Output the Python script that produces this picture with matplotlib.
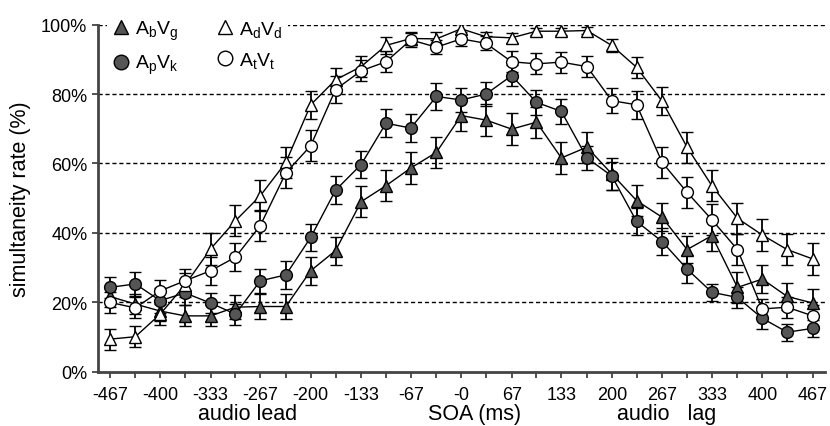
import matplotlib
matplotlib.use("Agg")
import matplotlib.pyplot as plt
from matplotlib.lines import Line2D

plt.rcParams['font.family'] = ['Liberation Sans', 'DejaVu Sans']
plt.rcParams['mathtext.fontset'] = 'custom'
plt.rcParams['mathtext.rm'] = 'Liberation Sans'
plt.rcParams['mathtext.it'] = 'Liberation Sans'

# SOA (ms), negative = audio lead
soa = [-467, -433, -400, -367, -333, -300, -267, -233, -200, -167, -133, -100, -67, -33,
       0, 33, 67, 100, 133, 167, 200, 233, 267, 300, 333, 367, 400, 433, 467]
tick_labels = ['-467', '', '-400', '', '-333', '', '-267', '', '-200', '', '-133', '', '-67', '',
               '-0', '', '67', '', '133', '', '200', '', '267', '', '333', '', '400', '', '467']

# simultaneity rate (%)
abvg = [21.7, 19.5, 17.5, 16.1, 16.1, 18.6, 18.8, 18.8, 29.1, 34.9, 49.0, 53.6, 58.7, 63.2,
        73.8, 72.5, 69.9, 71.9, 61.6, 64.7, 57.0, 49.3, 44.5, 35.2, 39.2, 24.3, 26.7, 21.7, 19.8]
abvg_err = [3, 3, 3, 3, 3, 3.5, 3.5, 3.5, 4, 4, 4.5, 4.5, 4.5, 4.5,
            4.5, 4.5, 4.5, 4.5, 4.5, 4.5, 4.5, 4.5, 4, 4, 4.5, 4.5, 4, 4, 4]

adod = [9.4, 10.1, 16.6, 25.0, 35.4, 43.5, 50.7, 60.3, 76.9, 84.1, 87.9, 94.0, 96.0, 95.9,
        98.8, 96.5, 96.2, 98.1, 98.1, 98.3, 94.0, 87.7, 77.9, 64.7, 53.6, 44.2, 39.4, 35.2, 32.5]
adod_err = [3, 3, 3, 3.5, 4.5, 4.5, 4.5, 4.5, 4, 3.5, 3, 2.5, 2, 2,
            1.5, 1.5, 1.5, 1, 1, 1, 2, 3, 4, 4.5, 4.5, 4.5, 4.5, 4.5, 4.5]

apvk = [24.3, 25.3, 20.5, 22.7, 19.8, 16.6, 26.2, 27.9, 38.7, 52.3, 59.7, 71.6, 70.2, 79.3,
        78.3, 80.0, 85.3, 77.6, 75.0, 61.6, 56.4, 43.3, 37.5, 29.6, 22.9, 21.4, 15.4, 11.4, 12.5]
apvk_err = [3, 3.5, 3.5, 3.5, 3, 3, 3.5, 4, 4, 4, 4, 4, 4, 4,
            3.5, 3.5, 3, 3.5, 3.5, 3.5, 4, 4, 4, 4, 2.5, 3, 3, 2.5, 2.5]

atvt = [20.0, 18.4, 23.3, 26.2, 29.1, 33.0, 42.1, 57.3, 65.1, 81.3, 86.7, 89.3, 95.6, 93.5,
        95.9, 94.6, 89.3, 88.7, 89.2, 87.9, 78.1, 76.9, 60.3, 51.7, 43.8, 35.2, 18.1, 18.6, 16.1]
atvt_err = [3, 3, 3, 3.5, 4, 4, 4.5, 4.5, 4.5, 4, 3, 3, 2, 2,
            2, 2, 3, 3, 3, 3, 3.5, 4, 4.5, 4.5, 4.5, 4.5, 3, 3, 3]

dark = '#555555'
series = [
    (abvg, abvg_err, '^', dark, r'$\mathrm{A_bV_g}$'),
    (apvk, apvk_err, 'o', dark, r'$\mathrm{A_pV_k}$'),
    (adod, adod_err, '^', 'white', r'$\mathrm{A_dV_d}$'),
    (atvt, atvt_err, 'o', 'white', r'$\mathrm{A_tV_t}$'),
]

fig = plt.figure(figsize=(8.3, 4.27), dpi=100)
ax = fig.add_axes([0.1177, 0.127, 0.876, 0.813])

handles = []
for vals, err, mk, fc, lab in series:
    ax.errorbar(soa, vals, yerr=err, fmt='-', color='black', lw=1.0,
                elinewidth=1.3, capsize=4, capthick=1.3,
                marker=mk, markersize=8.5, markerfacecolor=fc,
                markeredgecolor='black', markeredgewidth=1.0)
    handles.append(Line2D([], [], ls='none', marker=mk, markersize=10.5,
                          markerfacecolor=fc, markeredgecolor='black',
                          markeredgewidth=1.0, label=lab))

for yv in [20, 40, 60, 80, 100]:
    ax.axhline(yv, color='black', lw=1.0, ls=(0, (3, 2)), zorder=0)

ax.set_xlim(-483, 483)
ax.set_ylim(0, 100)
ax.set_xticks(soa, labels=tick_labels)
ax.set_yticks([0, 20, 40, 60, 80, 100], labels=['0%', '20%', '40%', '60%', '80%', '100%'])
ax.tick_params(labelsize=13, length=4, width=1.3, color='#444444')
ax.tick_params(axis='x', pad=6)

for s in ['top', 'right']:
    ax.spines[s].set_visible(False)
for s in ['left', 'bottom']:
    ax.spines[s].set_linewidth(2)
    ax.spines[s].set_color('#444444')

ax.set_ylabel('simultaneity rate (%)', fontsize=15.5, labelpad=7)
ax.text(0.206, -0.12, 'audio lead', transform=ax.transAxes, ha='center', va='center', fontsize=15.5)
ax.text(0.519, -0.12, 'SOA (ms)', transform=ax.transAxes, ha='center', va='center', fontsize=15.5)
ax.text(0.783, -0.12, 'audio   lag', transform=ax.transAxes, ha='center', va='center', fontsize=15.5)

leg = fig.legend(handles=handles, ncol=2, loc='upper left',
                 bbox_to_anchor=(0.1173, 0.99), frameon=True, fontsize=14,
                 handletextpad=0.33, columnspacing=2.0, labelspacing=0.57,
                 borderpad=0.3, handlelength=0.8)
leg.get_frame().set_facecolor('white')
leg.get_frame().set_edgecolor('none')
leg.get_frame().set_alpha(1)

fig.savefig('out.png', dpi=100)
